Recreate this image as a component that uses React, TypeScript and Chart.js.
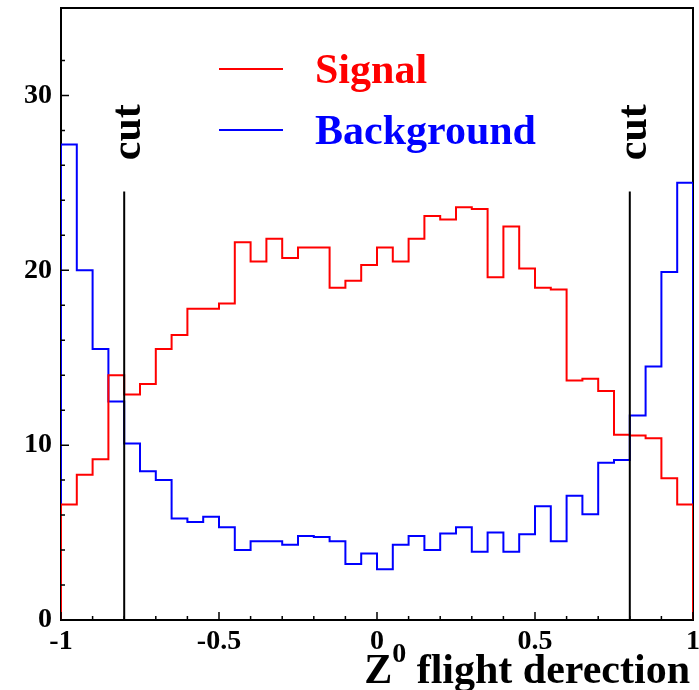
import { useEffect, useRef } from "react";
import { Chart, registerables } from "chart.js";

Chart.register(...registerables);

// Histogram binning of the Z0 flight direction
const X_MIN = -1;
const X_MAX = 1;
const BIN_WIDTH = 0.05;
const Y_MAX = 35;

// Entries per bin (40 bins from -1 to 1)
const signalCounts = [
  6.6, 8.3, 9.2, 14.0, 12.9, 13.5, 15.5, 16.3, 17.8, 17.8,
  18.1, 21.6, 20.5, 21.8, 20.7, 21.3, 21.3, 19.0, 19.4, 20.3,
  21.3, 20.5, 21.8, 23.1, 22.9, 23.6, 23.5, 19.6, 22.5, 20.1,
  19.0, 18.9, 13.7, 13.8, 13.1, 10.6, 10.55, 10.4, 8.1, 6.6,
];
const backgroundCounts = [
  27.2, 20.0, 15.5, 12.5, 10.1, 8.5, 8.0, 5.8, 5.6, 5.9,
  5.3, 4.0, 4.5, 4.5, 4.3, 4.8, 4.75, 4.5, 3.2, 3.8,
  2.9, 4.3, 4.8, 4.0, 4.95, 5.3, 3.9, 5.0, 3.9, 4.9,
  6.5, 4.5, 7.1, 6.05, 9.0, 9.15, 11.7, 14.5, 19.9, 25.0,
];

// Selection cuts
const cutPositions = [-0.8, 0.8];
const cutLineTop = 24.5;
const cutLabelCenter = 27.9;
const cutLabel = "cut";

// Axis tick labels
const xLabelValues = [-1, -0.5, 0, 0.5, 1];
const yLabelValues = [0, 10, 20, 30];

const seriesNames = ["Signal", "Background"];
const seriesColors = ["#ff0000", "#0000ff"];

const SERIF = '"Liberation Serif", "Times New Roman", serif';

// Closed histogram outline: up from zero at the left edge, across every bin, down at the right edge
function histOutline(counts: number[]) {
  const pts: { x: number; y: number }[] = [{ x: X_MIN, y: 0 }];
  counts.forEach((c, i) => {
    pts.push({ x: X_MIN + i * BIN_WIDTH, y: c });
    pts.push({ x: X_MIN + (i + 1) * BIN_WIDTH, y: c });
  });
  pts.push({ x: X_MAX, y: 0 });
  return pts;
}

function pickLabel(values: number[], v: number) {
  const hit = values.find((t) => Math.abs(t - v) < 1e-6);
  return hit === undefined ? "" : String(hit);
}

const decorations = {
  id: "decorations",
  beforeDatasetsDraw(chart: any) {
    const { ctx, chartArea: a } = chart;
    ctx.save();
    ctx.strokeStyle = "#000";
    ctx.lineWidth = 2;
    ctx.strokeRect(a.left, a.top, a.right - a.left, a.bottom - a.top);
    ctx.restore();
  },
  afterDraw(chart: any) {
    const { ctx, chartArea: a } = chart;
    const xs = chart.scales.x;
    const ys = chart.scales.y;
    ctx.save();

    // inward tick marks
    ctx.strokeStyle = "#000";
    ctx.lineWidth = 1.5;
    ctx.beginPath();
    xs.ticks.forEach((t: any) => {
      const px = xs.getPixelForValue(t.value);
      const major = Math.abs(t.value * 2 - Math.round(t.value * 2)) < 1e-6;
      ctx.moveTo(px, a.bottom);
      ctx.lineTo(px, a.bottom - (major ? 8 : 4));
    });
    ys.ticks.forEach((t: any) => {
      if (t.value >= Y_MAX) return;
      const py = ys.getPixelForValue(t.value);
      const major = t.value % 10 === 0;
      ctx.moveTo(a.left, py);
      ctx.lineTo(a.left + (major ? 8 : 4), py);
    });
    ctx.stroke();

    // rotated cut labels
    ctx.fillStyle = "#000";
    ctx.font = `bold 42px ${SERIF}`;
    ctx.textAlign = "center";
    ctx.textBaseline = "alphabetic";
    cutPositions.forEach((c) => {
      const px = xs.getPixelForValue(c);
      const py = ys.getPixelForValue(cutLabelCenter);
      ctx.save();
      ctx.translate(px + 16, py);
      ctx.rotate(-Math.PI / 2);
      ctx.fillText(cutLabel, 0, 0);
      ctx.restore();
    });

    // legend
    ctx.textAlign = "left";
    seriesNames.forEach((name, i) => {
      const ly = a.top + 61 + i * 61;
      ctx.strokeStyle = seriesColors[i];
      ctx.lineWidth = 2;
      ctx.beginPath();
      ctx.moveTo(a.left + 158, ly);
      ctx.lineTo(a.left + 222, ly);
      ctx.stroke();
      ctx.fillStyle = seriesColors[i];
      ctx.font = `bold 42px ${SERIF}`;
      ctx.fillText(name, a.left + 254, ly + 14);
    });

    // x-axis title: Z^0 flight derection
    const mainFont = `bold 42px ${SERIF}`;
    const supFont = `bold 28px ${SERIF}`;
    const rest = " flight derection";
    ctx.font = mainFont;
    const wZ = ctx.measureText("Z").width;
    const wRest = ctx.measureText(rest).width;
    ctx.font = supFont;
    const wSup = ctx.measureText("0").width;
    const right = 690;
    const base = 683;
    let x0 = right - (wZ + wSup + wRest);
    ctx.fillStyle = "#000";
    ctx.font = mainFont;
    ctx.fillText("Z", x0, base);
    x0 += wZ;
    ctx.font = supFont;
    ctx.fillText("0", x0, base - 21);
    x0 += wSup;
    ctx.font = mainFont;
    ctx.fillText(rest, x0, base);

    ctx.restore();
  },
};

export default function App() {
  const canvasRef = useRef<HTMLCanvasElement | null>(null);

  useEffect(() => {
    const canvas = canvasRef.current;
    if (!canvas) return;

    const lineStyle = {
      borderWidth: 2,
      pointRadius: 0,
      tension: 0,
      fill: false,
    };

    const chart = new Chart(canvas, {
      type: "line",
      data: {
        datasets: [
          {
            ...lineStyle,
            label: seriesNames[0],
            data: histOutline(signalCounts),
            borderColor: seriesColors[0],
            order: 1,
          },
          {
            ...lineStyle,
            label: seriesNames[1],
            data: histOutline(backgroundCounts),
            borderColor: seriesColors[1],
            order: 2,
          },
          ...cutPositions.map((c) => ({
            ...lineStyle,
            label: cutLabel,
            data: [
              { x: c, y: 0 },
              { x: c, y: cutLineTop },
            ],
            borderColor: "#000000",
            order: 0,
          })),
        ],
      },
      options: {
        animation: false,
        responsive: false,
        devicePixelRatio: 1,
        events: [],
        layout: { padding: { top: 8, right: 6, left: 0, bottom: 0 } },
        plugins: {
          legend: { display: false },
          tooltip: { enabled: false },
        },
        scales: {
          x: {
            type: "linear",
            min: X_MIN,
            max: X_MAX,
            border: { display: false },
            grid: { display: false, drawTicks: false, tickLength: 0 },
            ticks: {
              stepSize: 0.1,
              autoSkip: false,
              maxRotation: 0,
              minRotation: 0,
              padding: 5,
              color: "#000",
              font: { family: SERIF, size: 28, weight: "bold" },
              callback: (v: any) => pickLabel(xLabelValues, Number(v)),
            },
            afterFit: (s: any) => {
              s.height = 70;
              s.paddingLeft = 0;
              s.paddingRight = 0;
            },
          },
          y: {
            type: "linear",
            min: 0,
            max: Y_MAX,
            border: { display: false },
            grid: { display: false, drawTicks: false, tickLength: 0 },
            ticks: {
              stepSize: 2,
              autoSkip: false,
              padding: 9,
              color: "#000",
              font: { family: SERIF, size: 28, weight: "bold" },
              callback: (v: any) => pickLabel(yLabelValues, Number(v)),
            },
            afterFit: (s: any) => {
              s.width = 61;
              s.paddingTop = 0;
              s.paddingBottom = 0;
            },
          },
        },
      },
      plugins: [decorations],
    } as any);

    return () => chart.destroy();
  }, []);

  return (
    <div style={{ position: "absolute", left: 0, top: 0, width: 699, height: 690, background: "#fff" }}>
      <canvas ref={canvasRef} width={699} height={690} style={{ display: "block", width: 699, height: 690 }} />
    </div>
  );
}
